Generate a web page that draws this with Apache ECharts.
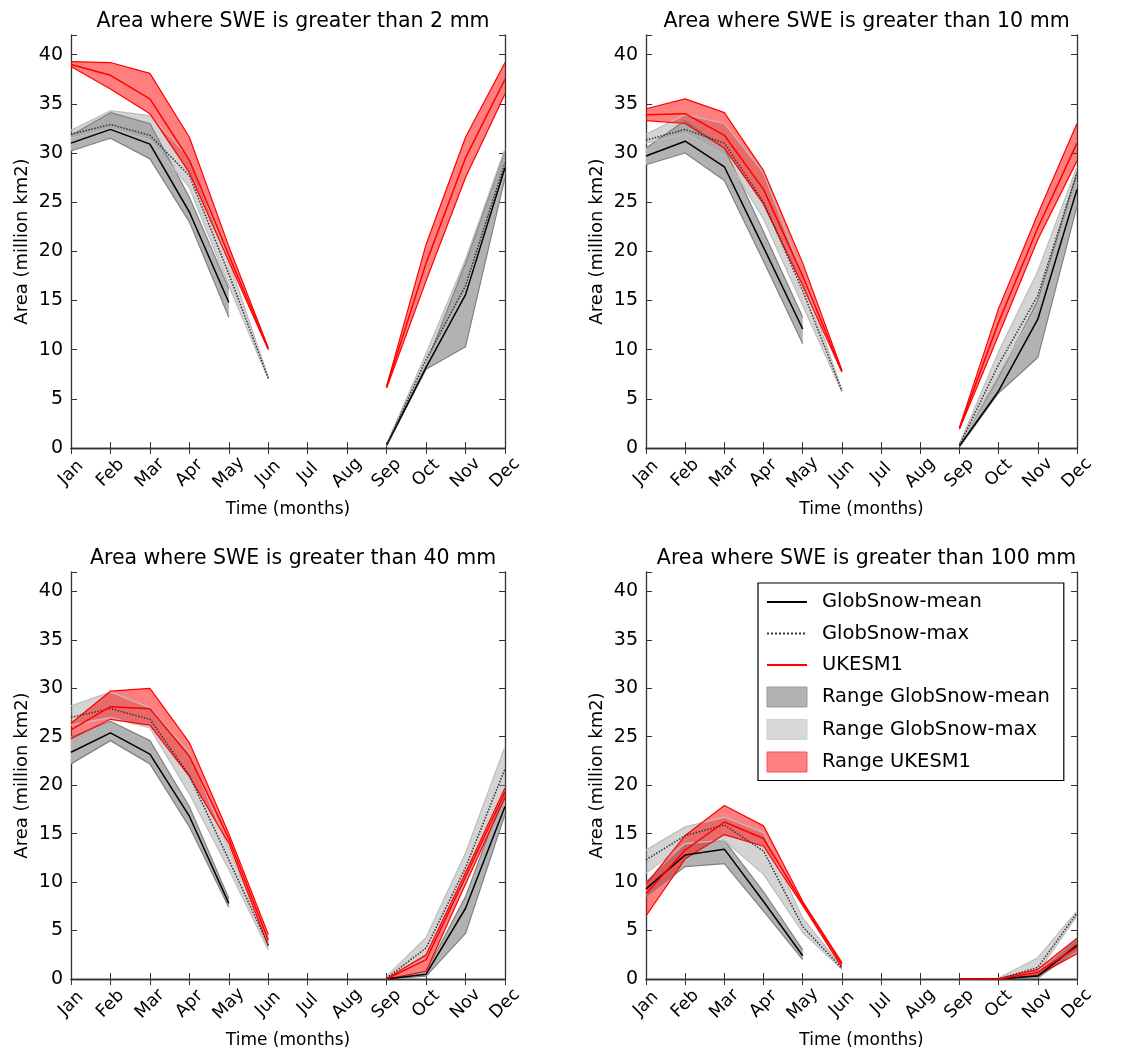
<!DOCTYPE html>
<html>
<head>
<meta charset="utf-8">
<script src="https://cdn.jsdelivr.net/npm/echarts@6/dist/echarts.min.js"></script>
<style>
  html, body { margin: 0; padding: 0; background: #fff; }
  #chart { width: 1145px; height: 1061px; }
</style>
</head>
<body>
<div id="chart"></div>
<script>
var months = ['Jan','Feb','Mar','Apr','May','Jun','Jul','Aug','Sep','Oct','Nov','Dec'];
var yTicks = [0, 5, 10, 15, 20, 25, 30, 35, 40];
var titles = ['Area where SWE is greater than 2 mm', 'Area where SWE is greater than 10 mm',
              'Area where SWE is greater than 40 mm', 'Area where SWE is greater than 100 mm'];

// SWE > 2 mm
var swe2Mean   = [31.0, 32.4, 30.9, 24.0, 14.8, null, null, null, 0.3, 8.2, 15.6, 28.5];
var swe2MeanLo = [30.2, 31.5, 29.4, 23.0, 13.3, null, null, null, 0.2, 8.0, 10.3, 27.5];
var swe2MeanHi = [31.8, 34.1, 33.0, 25.5, 16.2, null, null, null, 0.4, 8.5, 18.8, 30.3];
var swe2Max    = [31.9, 32.9, 31.8, 27.7, 17.7, 7.1, null, null, 0.3, 9.0, 16.5, 29.0];
var swe2MaxLo  = [31.5, 32.5, 31.3, 26.5, 16.5, 7.0, null, null, 0.2, 8.6, 16.0, 28.0];
var swe2MaxHi  = [32.3, 34.3, 33.8, 29.5, 19.0, 7.2, null, null, 0.4, 9.6, 19.2, 30.4];
var swe2Uk     = [39.0, 37.9, 35.5, 29.3, 19.6, 10.1, null, null, 6.2, 18.8, 29.5, 37.5];
var swe2UkLo   = [38.8, 36.5, 34.0, 28.0, 19.0, 10.0, null, null, 6.1, 17.0, 27.5, 36.0];
var swe2UkHi   = [39.3, 39.2, 38.1, 31.6, 20.5, 10.2, null, null, 6.3, 20.7, 31.6, 39.2];

// SWE > 10 mm
var swe10Mean   = [29.7, 31.2, 28.6, 20.4, 12.1, null, null, null, 0.2, 5.8, 13.1, 26.3];
var swe10MeanLo = [28.8, 30.0, 27.2, 19.0, 10.6, null, null, null, 0.1, 5.6, 9.2, 24.6];
var swe10MeanHi = [30.5, 33.3, 30.5, 22.0, 13.3, null, null, null, 0.3, 7.2, 15.0, 28.0];
var swe10Max    = [31.3, 32.4, 31.0, 25.0, 16.0, 5.8, null, null, 0.3, 8.5, 15.5, 28.0];
var swe10MaxLo  = [31.0, 32.0, 29.8, 23.3, 14.5, 5.7, null, null, 0.2, 7.5, 14.5, 27.0];
var swe10MaxHi  = [31.9, 33.9, 33.0, 28.0, 17.5, 5.9, null, null, 0.4, 9.8, 18.0, 28.6];
var swe10Uk     = [33.9, 34.0, 31.8, 26.3, 17.5, 7.8, null, null, 2.0, 12.8, 22.4, 31.0];
var swe10UkLo   = [33.3, 33.0, 30.5, 24.8, 16.5, 7.7, null, null, 1.9, 11.5, 21.2, 29.2];
var swe10UkHi   = [34.5, 35.5, 34.1, 28.2, 18.8, 7.9, null, null, 2.1, 14.2, 23.8, 33.0];

// SWE > 40 mm
var swe40Mean   = [23.4, 25.4, 23.2, 16.8, 7.8, null, null, null, 0.0, 0.5, 7.3, 17.8];
var swe40MeanLo = [22.2, 24.6, 22.2, 15.7, 7.4, null, null, null, 0.0, 0.3, 4.7, 17.0];
var swe40MeanHi = [25.0, 26.6, 24.6, 17.8, 8.3, null, null, null, 0.0, 0.8, 8.5, 19.5];
var swe40Max    = [27.0, 27.9, 26.8, 21.0, 12.3, 3.5, null, null, 0.1, 3.2, 11.5, 21.7];
var swe40MaxLo  = [26.2, 27.0, 25.9, 19.1, 11.3, 3.0, null, null, 0.0, 2.2, 10.2, 19.8];
var swe40MaxHi  = [28.2, 29.6, 28.0, 23.3, 13.5, 3.6, null, null, 0.3, 4.3, 13.0, 24.0];
var swe40Uk     = [25.7, 28.1, 27.9, 23.0, 14.5, 4.0, null, null, 0.0, 2.0, 10.5, 19.3];
var swe40UkLo   = [24.8, 26.8, 26.2, 20.9, 14.0, 3.4, null, null, 0.0, 0.8, 9.8, 18.7];
var swe40UkHi   = [26.4, 29.7, 30.0, 24.4, 15.0, 4.6, null, null, 0.05, 2.5, 11.0, 19.7];

// SWE > 100 mm
var swe100Mean   = [9.3, 12.8, 13.4, 8.0, 2.4, null, null, null, 0.0, 0.0, 0.3, 3.5];
var swe100MeanLo = [8.5, 11.6, 11.9, 7.0, 2.0, null, null, null, 0.0, 0.0, 0.1, 3.0];
var swe100MeanHi = [10.0, 13.8, 14.3, 9.0, 3.0, null, null, null, 0.0, 0.0, 0.6, 4.0];
var swe100Max    = [12.3, 14.8, 15.9, 13.2, 5.4, 1.1, null, null, 0.0, 0.0, 1.2, 6.8];
var swe100MaxLo  = [10.9, 14.0, 14.3, 10.8, 4.8, 1.0, null, null, 0.0, 0.0, 0.7, 6.5];
var swe100MaxHi  = [13.3, 15.7, 16.7, 15.1, 6.3, 1.2, null, null, 0.0, 0.1, 2.2, 7.0];
var swe100Uk     = [8.8, 13.3, 16.2, 14.5, 7.8, 1.5, null, null, 0.0, 0.0, 0.7, 3.3];
var swe100UkLo   = [6.5, 12.4, 14.9, 13.7, 7.6, 1.2, null, null, 0.0, 0.0, 0.4, 2.6];
var swe100UkHi   = [9.8, 14.8, 17.9, 15.8, 8.0, 1.7, null, null, 0.05, 0.05, 1.0, 4.2];

var panels = [
  {mean: swe2Mean, meanLo: swe2MeanLo, meanHi: swe2MeanHi, max: swe2Max, maxLo: swe2MaxLo, maxHi: swe2MaxHi, uk: swe2Uk, ukLo: swe2UkLo, ukHi: swe2UkHi},
  {mean: swe10Mean, meanLo: swe10MeanLo, meanHi: swe10MeanHi, max: swe10Max, maxLo: swe10MaxLo, maxHi: swe10MaxHi, uk: swe10Uk, ukLo: swe10UkLo, ukHi: swe10UkHi},
  {mean: swe40Mean, meanLo: swe40MeanLo, meanHi: swe40MeanHi, max: swe40Max, maxLo: swe40MaxLo, maxHi: swe40MaxHi, uk: swe40Uk, ukLo: swe40UkLo, ukHi: swe40UkHi},
  {mean: swe100Mean, meanLo: swe100MeanLo, meanHi: swe100MeanHi, max: swe100Max, maxLo: swe100MaxLo, maxHi: swe100MaxHi, uk: swe100Uk, ukLo: swe100UkLo, ukHi: swe100UkHi}
];

var grids = [
  {left: 71, top: 35, width: 434, height: 413},
  {left: 646, top: 35, width: 431, height: 413},
  {left: 71, top: 572, width: 434, height: 407},
  {left: 646, top: 572, width: 431, height: 407}
];

var FONT = 'DejaVu Sans';
var chart = echarts.init(document.getElementById('chart'));

function diff(hi, lo) {
  return hi.map(function (v, i) { return v == null || lo[i] == null ? null : +(v - lo[i]).toFixed(3); });
}

// fill_between style band: base line + stacked difference
function band(name, lo, hi, gi, fill, edge) {
  var st = 'band' + gi + name;
  return [
    {name: name + ' lower', type: 'line', xAxisIndex: gi * 2, yAxisIndex: gi * 2, stack: st,
     data: lo, symbol: 'none', z: 2, lineStyle: {color: edge, width: 1.2}, silent: true},
    {name: name, type: 'line', xAxisIndex: gi * 2, yAxisIndex: gi * 2, stack: st,
     data: diff(hi, lo), symbol: 'none', z: 2, lineStyle: {color: edge, width: 1.2},
     itemStyle: {color: fill}, areaStyle: {color: fill, opacity: 1}, silent: true}
  ];
}

function line(name, data, gi, color, type) {
  return {name: name, type: 'line', xAxisIndex: gi * 2, yAxisIndex: gi * 2, data: data,
          symbol: 'none', z: 3, itemStyle: {color: color},
          lineStyle: {color: color, width: 1.5, type: type || 'solid'}};
}

var xAxes = [], yAxes = [], series = [], titleList = [];
grids.forEach(function (g, i) {
  titleList.push({text: titles[i], left: g.left + g.width / 2, top: i < 2 ? 6 : 543, textAlign: 'center',
    textStyle: {fontFamily: FONT, fontSize: 20.5, fontWeight: 'normal', color: '#000'}});
  xAxes.push({type: 'category', gridIndex: i, data: months, boundaryGap: false, position: 'bottom',
    name: 'Time (months)', nameLocation: 'middle', nameGap: 53,
    nameTextStyle: {fontFamily: FONT, fontSize: 17, color: '#000'},
    axisLine: {lineStyle: {color: '#333', width: 1.3}},
    axisTick: {inside: true, length: 6, lineStyle: {color: '#333'}},
    axisLabel: {rotate: 45, fontFamily: FONT, fontSize: 17.5, color: '#000', margin: 25,
                align: 'center', verticalAlign: 'middle', interval: 0},
    splitLine: {show: false}});
  xAxes.push({type: 'category', gridIndex: i, data: months, boundaryGap: false, position: 'top',
    axisLine: {lineStyle: {color: '#333', width: 1.3}},
    axisTick: {inside: true, length: 6, lineStyle: {color: '#333'}},
    axisLabel: {show: false}, splitLine: {show: false}});
  yAxes.push({type: 'value', gridIndex: i, min: 0, max: 42, interval: 5, position: 'left',
    name: 'Area (million km2)', nameLocation: 'middle', nameGap: 40,
    nameTextStyle: {fontFamily: FONT, fontSize: 18, color: '#000'},
    axisLine: {show: true, lineStyle: {color: '#333', width: 1.3}},
    axisTick: {show: true, inside: true, length: 6, lineStyle: {color: '#333'}},
    axisLabel: {fontFamily: FONT, fontSize: 19, color: '#000', margin: 8,
      formatter: function (v) { return yTicks.indexOf(v) >= 0 ? v : ''; }},
    splitLine: {show: false}});
  yAxes.push({type: 'value', gridIndex: i, min: 0, max: 42, interval: 5, position: 'right',
    axisLine: {show: true, lineStyle: {color: '#333', width: 1.3}},
    axisTick: {show: true, inside: true, length: 6, lineStyle: {color: '#333'}},
    axisLabel: {show: false}, splitLine: {show: false}});

  var p = panels[i];
  series = series.concat(band('Range GlobSnow-mean', p.meanLo, p.meanHi, i, '#b2b2b2', '#808080'));
  series = series.concat(band('Range GlobSnow-max', p.maxLo, p.maxHi, i, 'rgba(160,160,160,0.45)', '#bdbdbd'));
  series = series.concat(band('Range UKESM1', p.ukLo, p.ukHi, i, 'rgba(255,0,0,0.5)', '#ff0000'));
  series.push(line('GlobSnow-mean', p.mean, i, '#000'));
  series.push(line('GlobSnow-max', p.max, i, '#333', 'dotted'));
  series.push(line('UKESM1', p.uk, i, '#ff0000'));
});

var option = {
  animation: false,
  backgroundColor: '#fff',
  title: titleList,
  grid: grids,
  xAxis: xAxes,
  yAxis: yAxes,
  legend: {
    left: 758, top: 583, width: 290, orient: 'vertical',
    padding: [9, 14, 8, 8], itemGap: 11.5, itemWidth: 40, itemHeight: 20,
    borderColor: '#000', borderWidth: 1.2, backgroundColor: '#fff',
    textStyle: {fontFamily: FONT, fontSize: 19.5, color: '#000', padding: [0, 0, 0, 10]},
    data: [
      {name: 'GlobSnow-mean', itemStyle: {opacity: 0}},
      {name: 'GlobSnow-max', itemStyle: {opacity: 0}},
      {name: 'UKESM1', itemStyle: {opacity: 0}},
      {name: 'Range GlobSnow-mean', icon: 'rect', itemStyle: {color: '#b2b2b2', borderColor: '#999', borderWidth: 1}},
      {name: 'Range GlobSnow-max', icon: 'rect', itemStyle: {color: '#d8d8d8', borderColor: '#cfcfcf', borderWidth: 1}},
      {name: 'Range UKESM1', icon: 'rect', itemStyle: {color: '#ff8080', borderColor: '#ff5050', borderWidth: 1}}
    ]
  },
  series: series
};
chart.setOption(option);
</script>
</body>
</html>
